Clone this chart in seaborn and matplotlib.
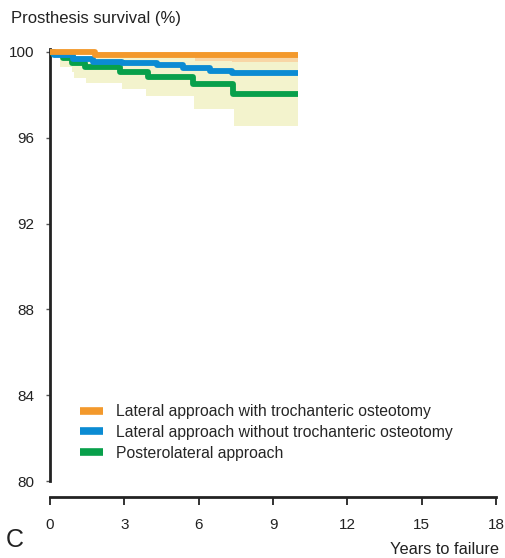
import numpy as np
import pandas as pd
import matplotlib
matplotlib.use("Agg")
import matplotlib.pyplot as plt
import seaborn as sns
from matplotlib.lines import Line2D

sns.set_theme(style="white")
plt.rcParams['font.family'] = ['Liberation Sans', 'DejaVu Sans']

# ---- data (Kaplan-Meier steps) ----
series_names = ["Lateral approach with trochanteric osteotomy",
                "Lateral approach without trochanteric osteotomy",
                "Posterolateral approach"]
colors = ["#f3992c", "#0b8bd3", "#08a04b"]

orange_t = [0, 1.8, 10]
orange_s = [100, 99.86, 99.86]
blue_t = [0, 0.15, 0.94, 1.75, 2.89, 4.3, 5.38, 6.45, 7.33, 10]
blue_s = [100, 99.85, 99.69, 99.55, 99.47, 99.39, 99.24, 99.13, 99.03, 99.03]
green_t = [0, 0.13, 0.54, 0.87, 1.41, 2.82, 3.96, 5.78, 7.39, 10]
green_s = [100, 99.9, 99.7, 99.47, 99.28, 99.08, 98.85, 98.5, 98.02, 98.02]

# confidence bands
orange_ci_t = [0, 1.8, 5.85, 10]
orange_ci_lo = [100, 99.75, 99.53, 99.53]
orange_ci_hi = [100, 100, 100, 100]
blue_ci_t = [0, 0.94, 5.85, 7.33, 10]
blue_ci_lo = [100, 99.4, 98.9, 98.6, 98.6]
blue_ci_hi = [100, 99.8, 99.6, 99.53, 99.53]
green_ci_t = [0, 0.4, 0.87, 0.95, 1.45, 2.89, 3.87, 5.81, 7.42, 10]
green_ci_lo = [100, 99.31, 99.08, 98.8, 98.57, 98.27, 97.96, 97.34, 96.54, 96.54]
green_ci_hi = [100, 99.9, 99.85, 99.8, 99.7, 99.6, 99.5, 99.4, 99.3, 99.3]

y_ticks = [80, 84, 88, 92, 96, 100]
x_ticks = [0, 3, 6, 9, 12, 15, 18]

# ---- figure ----
W, H = 505, 558
fig = plt.figure(figsize=(W / 100, H / 100), dpi=100)
top_px, bot_px, left_px, right_px = 48.5, 481, 50, 496
ax = fig.add_axes([left_px / W, 1 - bot_px / H, (right_px - left_px) / W, (bot_px - top_px) / H])

band = "#f3f3cd"
ax.fill_between(orange_ci_t, orange_ci_lo, orange_ci_hi, step="post", color="#f8d6a6", lw=0, zorder=1)
ax.fill_between(green_ci_t, green_ci_lo, green_ci_hi, step="post", color=band, lw=0, zorder=1.1)
ax.fill_between(blue_ci_t, blue_ci_lo, blue_ci_hi, step="post", color=band, lw=0, zorder=1.1)

frames = []
for name, t, s in zip(series_names, [orange_t, blue_t, green_t], [orange_s, blue_s, green_s]):
    frames.append(pd.DataFrame({"Years": t, "Survival": s, "Approach": name}))
df = pd.concat(frames, ignore_index=True)

# draw green first, then blue, then orange on top
for name, col in list(zip(series_names, colors))[::-1]:
    sub = df[df["Approach"] == name]
    sns.lineplot(data=sub, x="Years", y="Survival", ax=ax, color=col, lw=4.2,
                 drawstyle="steps-post", estimator=None, sort=False, legend=False,
                 zorder=3, solid_capstyle="butt")

ax.set_xlim(0, 18)
ax.set_ylim(80, 100.16)
ax.set_xticks(x_ticks)
ax.set_yticks(y_ticks)
ax.set_xlabel("")
ax.set_ylabel("")

for side in ["top", "right"]:
    ax.spines[side].set_visible(False)
ax.spines["left"].set_linewidth(2)
ax.spines["left"].set_color("#222222")
ax.spines["left"].set_bounds(80, 100.16)
ax.spines["bottom"].set_linewidth(2)
ax.spines["bottom"].set_color("#222222")
ax.spines["bottom"].set_position(("outward", 11.5))
ax.spines["bottom"].set_bounds(0, 18)

ax.tick_params(axis="y", direction="out", length=3, width=1, color="#555555",
               pad=8, labelsize=11, labelcolor="#222222", left=True)
ax.tick_params(axis="x", direction="out", length=6, width=1.3, color="#222222",
               pad=9, labelsize=11, labelcolor="#222222", bottom=True)

handles = [Line2D([0], [0], color=c, lw=5.5, solid_capstyle="butt") for c in colors]
ax.legend(handles, series_names, loc="upper left",
          bbox_to_anchor=(80 / W, 1 - 404 / H), bbox_transform=fig.transFigure,
          frameon=False, fontsize=11.3, handlelength=1.47, handletextpad=0.83,
          labelspacing=0.38, borderpad=0, borderaxespad=0)

fig.text(11 / W, 1 - 18 / H, "Prosthesis survival (%)", fontsize=12, color="#222222",
         ha="left", va="center")
fig.text(6 / W, 1 - 540 / H, "C", fontsize=18, color="#222222", ha="left", va="center")
fig.text(499 / W, 1 - 549 / H, "Years to failure", fontsize=11.8, color="#222222",
         ha="right", va="center")

fig.savefig("out.png", dpi=100)
